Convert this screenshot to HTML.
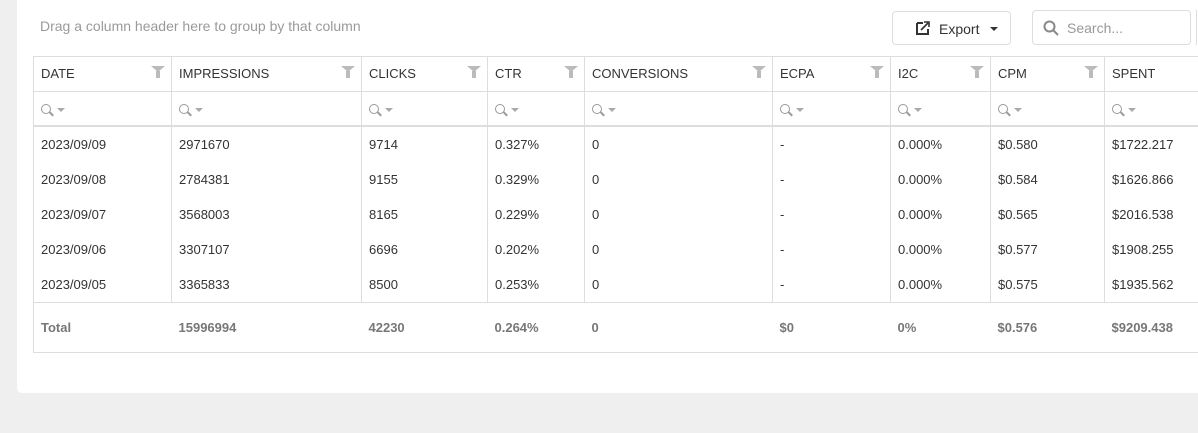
<!DOCTYPE html>
<html><head><meta charset="utf-8">
<style>
html,body{margin:0;padding:0;width:1198px;height:433px;overflow:hidden;background:#efefef;font-family:"Liberation Sans",Arial,sans-serif;}
.panel{position:absolute;left:17px;top:0;width:1200px;height:393px;background:#fff;border-bottom-left-radius:5px;}
.drag{position:absolute;left:40px;top:18px;font-size:14px;color:#9a9a9a;}
.btn{position:absolute;left:892px;top:11px;width:119px;height:34px;border:1px solid #ddd;border-radius:4px;background:#fff;box-sizing:border-box;}
.btn span{position:absolute;left:46px;top:9px;font-size:14px;color:#333;}
.search{position:absolute;left:1032px;top:10px;width:159px;height:35px;border:1px solid #ddd;border-radius:4px;box-sizing:border-box;}
.search span{position:absolute;left:34px;top:9px;font-size:14px;color:#999;}
.edge{position:absolute;left:1196px;top:10px;width:4px;height:35px;border-left:1px solid #ddd;}
table{position:absolute;left:33px;top:56px;border-collapse:collapse;table-layout:fixed;width:1300px;font-size:13px;color:#333;}
td{border:1px solid #ddd;padding:0 0 0 7px;white-space:nowrap;overflow:hidden;position:relative;}
tr.h td{height:34px;}
tr.h td b{font-weight:normal;position:relative;top:-1px;}
tr.f td{height:33px;border-bottom:2px solid #ddd;}
tr.d td{height:35px;border-top:none;border-bottom:none;}
tr.d.last td{border-bottom:1px solid #ddd;}
tr.t td{height:49px;font-weight:bold;color:#777;border-left:none;border-right:none;}
tr.t td:first-child{border-left:1px solid #ddd;}
.fil{position:absolute;right:6px;top:9px;width:0;height:0;border-left:7px solid transparent;border-right:7px solid transparent;border-top:6px solid #bbb;}
.fil:after{content:"";position:absolute;left:-2px;top:-1px;width:4px;height:7px;background:#bbb;}
.mg{display:inline-block;width:8px;height:8px;border:1.6px solid #999;border-radius:50%;position:relative;top:1px;}
.mg:after{content:"";position:absolute;left:7px;top:8px;width:5px;height:1.8px;background:#999;transform:rotate(45deg);}
.ar{display:inline-block;margin-left:6px;border-left:4px solid transparent;border-right:4px solid transparent;border-top:4px solid #aaa;vertical-align:middle;}
</style></head><body>
<div class="panel"></div>
<div class="drag">Drag a column header here to group by that column</div>
<div class="btn"><svg style="position:absolute;left:22px;top:8px" width="16" height="16" viewBox="0 0 16 16"><path d="M2 3h6M2 3v11h11v-5" stroke="#333" stroke-width="2" fill="none"/><path d="M6 10l7-7M9 2h5v5" stroke="#333" stroke-width="1.6" fill="none"/></svg><span>Export</span><div style="position:absolute;left:97px;top:15px;border-left:4px solid transparent;border-right:4px solid transparent;border-top:4px solid #333"></div></div>
<div class="search"><svg style="position:absolute;left:10px;top:9px" width="16" height="16" viewBox="0 0 16 16"><circle cx="6.5" cy="6.5" r="5" stroke="#888" stroke-width="2" fill="none"/><path d="M10 10l5 5" stroke="#888" stroke-width="2"/></svg><span>Search...</span></div>
<div class="edge"></div>
<table>
<colgroup><col style="width:138px"><col style="width:190px"><col style="width:126px"><col style="width:97px"><col style="width:188px"><col style="width:118px"><col style="width:100px"><col style="width:114px"><col style="width:229px"></colgroup>
<tr class="h"><td><b>DATE</b><i class="fil"></i></td><td><b>IMPRESSIONS</b><i class="fil"></i></td><td><b>CLICKS</b><i class="fil"></i></td><td><b>CTR</b><i class="fil"></i></td><td><b>CONVERSIONS</b><i class="fil"></i></td><td><b>ECPA</b><i class="fil"></i></td><td><b>I2C</b><i class="fil"></i></td><td><b>CPM</b><i class="fil"></i></td><td><b>SPENT</b></td></tr>
<tr class="f"><td><i class="mg"></i><i class="ar"></i></td><td><i class="mg"></i><i class="ar"></i></td><td><i class="mg"></i><i class="ar"></i></td><td><i class="mg"></i><i class="ar"></i></td><td><i class="mg"></i><i class="ar"></i></td><td><i class="mg"></i><i class="ar"></i></td><td><i class="mg"></i><i class="ar"></i></td><td><i class="mg"></i><i class="ar"></i></td><td><i class="mg"></i><i class="ar"></i></td></tr>
<tr class="d"><td>2023/09/09</td><td>2971670</td><td>9714</td><td>0.327%</td><td>0</td><td>-</td><td>0.000%</td><td>$0.580</td><td>$1722.217</td></tr>
<tr class="d"><td>2023/09/08</td><td>2784381</td><td>9155</td><td>0.329%</td><td>0</td><td>-</td><td>0.000%</td><td>$0.584</td><td>$1626.866</td></tr>
<tr class="d"><td>2023/09/07</td><td>3568003</td><td>8165</td><td>0.229%</td><td>0</td><td>-</td><td>0.000%</td><td>$0.565</td><td>$2016.538</td></tr>
<tr class="d"><td>2023/09/06</td><td>3307107</td><td>6696</td><td>0.202%</td><td>0</td><td>-</td><td>0.000%</td><td>$0.577</td><td>$1908.255</td></tr>
<tr class="d last"><td>2023/09/05</td><td>3365833</td><td>8500</td><td>0.253%</td><td>0</td><td>-</td><td>0.000%</td><td>$0.575</td><td>$1935.562</td></tr>
<tr class="t"><td>Total</td><td>15996994</td><td>42230</td><td>0.264%</td><td>0</td><td>$0</td><td>0%</td><td>$0.576</td><td>$9209.438</td></tr>
</table>
</body></html>
